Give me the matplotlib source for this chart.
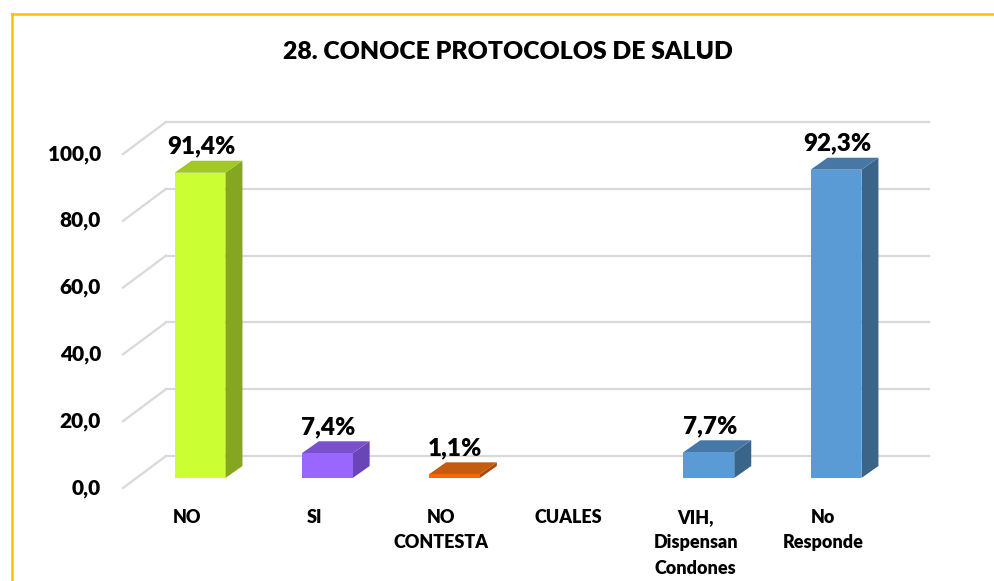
import matplotlib
matplotlib.use("Agg")
import matplotlib.pyplot as plt
from matplotlib.patches import Polygon, Rectangle
from matplotlib.lines import Line2D
import numpy as np

# ---------------- data ----------------
categories = ["NO", "SI", "NO\nCONTESTA", "CUALES", "VIH,\nDispensan\nCondones", "No\nResponde"]
values = [91.4, 7.4, 1.1, np.nan, 7.7, 92.3]
value_labels = ["91,4%", "7,4%", "1,1%", "", "7,7%", "92,3%"]
yticks = [0, 20, 40, 60, 80, 100]
ytick_labels = ["0,0", "20,0", "40,0", "60,0", "80,0", "100,0"]
title = "28. CONOCE PROTOCOLOS DE SALUD"

# ---------------- styles ----------------
front_cols = ["#CCFF33", "#9966FF", "#FF6600", "#5B9BD5", "#5B9BD5", "#5B9BD5"]
side_cols = ["#84A620", "#6A45B8", "#A84A0C", "#3B6489", "#3B6489", "#3B6489"]
top_cols = ["#A2C827", "#7A50CC", "#C55A11", "#4677A6", "#4677A6", "#4677A6"]
grid_col = "#D9D9D9"
FONT = "Lato"
WEIGHT = "heavy"

W, H, DPI = 994, 581, 100
fig = plt.figure(figsize=(W / DPI, H / DPI), dpi=DPI)
fig.patch.set_facecolor("white")

# axes = front plane of the bars (pixel placement)
px_left, px_right = 136.4, 899.6
px_base, px_top = 478.0, 144.0
ax = fig.add_axes([px_left / W, 1 - px_base / H, (px_right - px_left) / W, (px_base - px_top) / H])
ax.set_xlim(-0.5, len(categories) - 0.5)
ax.set_ylim(0, 100)
ax.axis("off")

ppx = (px_right - px_left) / len(categories)   # pixels per category
ppy = (px_base - px_top) / 100.0               # pixels per value unit

# depth offsets in data units
bar_dx, bar_dy = 17 / ppx, 12 / ppy
back_dx, back_dy = 29.6 / ppx, 22 / ppy
front_dx, front_dy = -13.4 / ppx, -10 / ppy
x0, x1 = -0.5, len(categories) - 0.5

# gridlines (back wall + side wall diagonals)
for t in yticks:
    ax.add_line(Line2D([x0 + back_dx, x1 + back_dx], [t + back_dy, t + back_dy],
                       color=grid_col, lw=1.6, clip_on=False, zorder=1))
    ax.add_line(Line2D([x0 + front_dx, x0 + back_dx], [t + front_dy, t + back_dy],
                       color=grid_col, lw=1.6, clip_on=False, zorder=1))

# y tick labels (front plane)
for t, lab in zip(yticks, ytick_labels):
    ax.annotate(lab, xy=(x0 + front_dx, t + front_dy), xytext=(-22, 0),
                textcoords="offset pixels", ha="right", va="center",
                fontsize=15, fontweight=WEIGHT, family=FONT, color="black",
                annotation_clip=False)

# bars
w = 0.40
for i, v in enumerate(values):
    if np.isnan(v):
        continue
    xl, xr = i - w / 2, i + w / 2
    ax.add_patch(Polygon([(xr, 0), (xr, v), (xr + bar_dx, v + bar_dy), (xr + bar_dx, bar_dy)],
                         closed=True, facecolor=side_cols[i], edgecolor="none", zorder=3, clip_on=False))
    ax.add_patch(Polygon([(xl, v), (xr, v), (xr + bar_dx, v + bar_dy), (xl + bar_dx, v + bar_dy)],
                         closed=True, facecolor=top_cols[i], edgecolor="none", zorder=3, clip_on=False))
    ax.add_patch(Rectangle((xl, 0), w, v, facecolor=front_cols[i], edgecolor="none",
                           zorder=4, clip_on=False))
    ax.annotate(value_labels[i], xy=(i, v), xytext=(1, 26), textcoords="offset pixels",
                ha="center", va="center", fontsize=17.5, fontweight=WEIGHT, family=FONT,
                color="black", annotation_clip=False)

# category labels
for i, lab in enumerate(categories):
    ax.annotate(lab, xy=(i, 0), xytext=(-13, -31), textcoords="offset pixels",
                ha="center", va="top", fontsize=13, fontweight=WEIGHT, family=FONT,
                linespacing=1.6, multialignment="center", annotation_clip=False)

# title
fig.text(508 / W, 1 - 52 / H, title, ha="center", va="center", fontsize=17.8,
         fontweight=WEIGHT, family=FONT, color="black")

# chart-area border (gold)
fig.add_artist(Line2D([12 / W, 12 / W], [0, 1 - 14 / H], transform=fig.transFigure,
                      color="#FFC000", lw=1.8))
fig.add_artist(Line2D([12 / W, 1], [1 - 14 / H, 1 - 14 / H], transform=fig.transFigure,
                      color="#FFC000", lw=1.8))

fig.savefig("out.png", dpi=DPI, facecolor="white")
